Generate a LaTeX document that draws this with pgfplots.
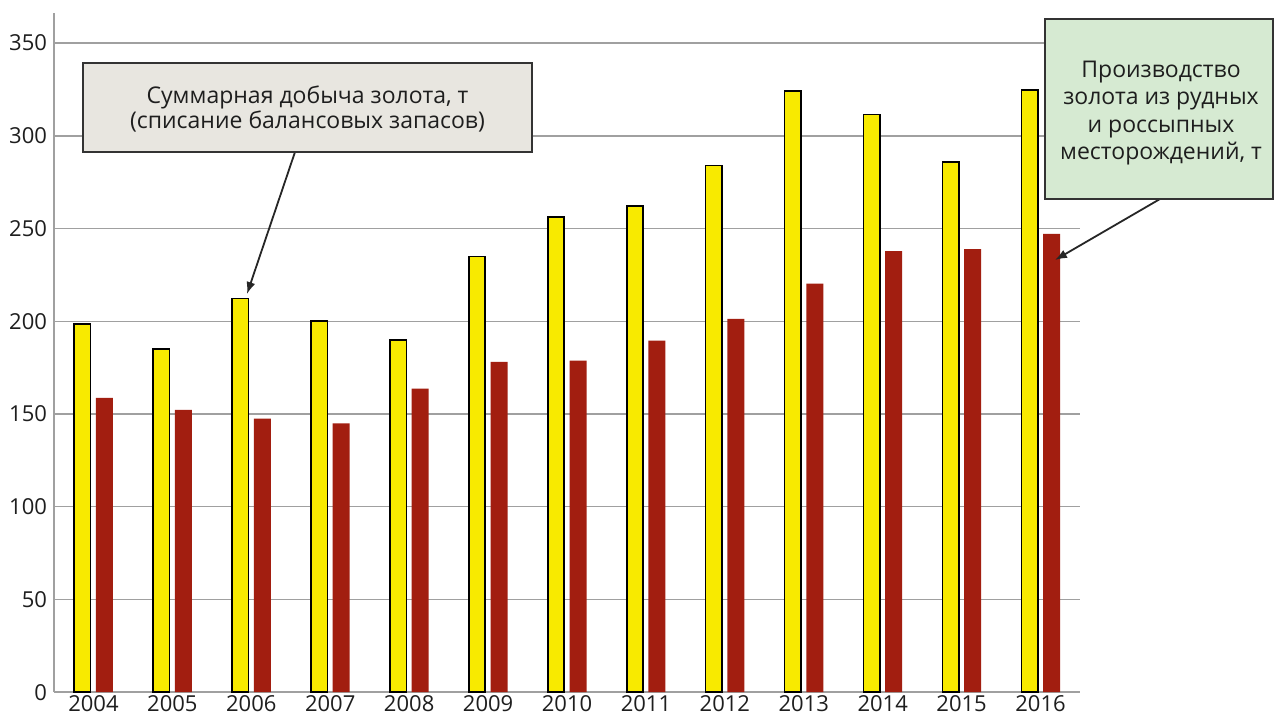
\documentclass[border=0pt]{standalone}
\usepackage{fontspec}
\setmainfont{Open Sans}
\usepackage{pgfplots}
\pgfplotsset{compat=1.18}
\usetikzlibrary{arrows.meta}
\definecolor{byel}{RGB}{248,234,0}
\definecolor{bred}{RGB}{162,30,16}
\definecolor{gridg}{RGB}{160,160,160}
\definecolor{boxa}{RGB}{232,230,224}
\definecolor{boxb}{RGB}{214,234,210}
\definecolor{txt}{RGB}{30,30,30}
\begin{document}
\begin{tikzpicture}
\fill[white] (0,0) rectangle (637pt,359pt);
\path[use as bounding box] (0,0) rectangle (637pt,359pt);
\begin{axis}[
  at={(27pt,12.9pt)}, anchor=south west,
  scale only axis, width=513pt, height=339.4pt,
  xmin=-0.5, xmax=12.5, ymin=0, ymax=366,
  axis lines=left, axis line style={gridg, line width=0.75pt, -},
  ytick={0,50,100,150,200,250,300,350},
  xtick={0,1,2,3,4,5,6,7,8,9,10,11,12},
  xticklabels={2004,2005,2006,2007,2008,2009,2010,2011,2012,2013,2014,2015,2016},
  ymajorgrids, grid style={gridg, line width=0.75pt},
  major tick length=0pt,
  tick label style={font=\fontsize{11}{12}\selectfont, text=txt},
  xticklabel style={inner sep=1pt, yshift=-0.5pt},
  /pgf/number format/assume math mode=true,
  clip=false,
]
\addplot[ybar, bar width=8.2pt, bar shift=-5.5pt, fill=byel, draw=black, line width=0.8pt]
  coordinates {(0,198.6)(1,185)(2,212.2)(3,200)(4,190)(5,235)(6,256.2)(7,262)(8,284)(9,324)(10,311.5)(11,286)(12,324.8)};
\addplot[ybar, bar width=8.5pt, bar shift=5.5pt, fill=bred, draw=none]
  coordinates {(0,158.7)(1,152.2)(2,147.5)(3,145)(4,163.7)(5,178.1)(6,178.8)(7,189.6)(8,201.3)(9,220.3)(10,237.8)(11,238.9)(12,247.1)};
\end{axis}
% annotation 1
\draw[-{Latex[length=6pt,width=4.5pt]}, line width=0.9pt, black!85] (147.5pt,283pt) -- (123.5pt,212pt);
\draw[draw=black!80, line width=1pt, fill=boxa] (41.5pt,283pt) rectangle (266pt,327.5pt);
\node[align=center, font=\fontsize{11.5}{12.5}\selectfont, text=txt] at (153.75pt,304.5pt)
  {Суммарная добыча золота, т\\(списание балансовых запасов)};
% annotation 2
\draw[-{Latex[length=6pt,width=4.5pt]}, line width=0.9pt, black!85] (580pt,259.5pt) -- (527.5pt,229pt);
\draw[draw=black!80, line width=1pt, fill=boxb] (522.5pt,259.5pt) rectangle (636.5pt,349.5pt);
\node[align=center, font=\fontsize{11.5}{13.8}\selectfont, text=txt] at (580.5pt,302.5pt)
  {Производство\\золота из рудных\\и россыпных\\месторождений, т};
\end{tikzpicture}
\end{document}
